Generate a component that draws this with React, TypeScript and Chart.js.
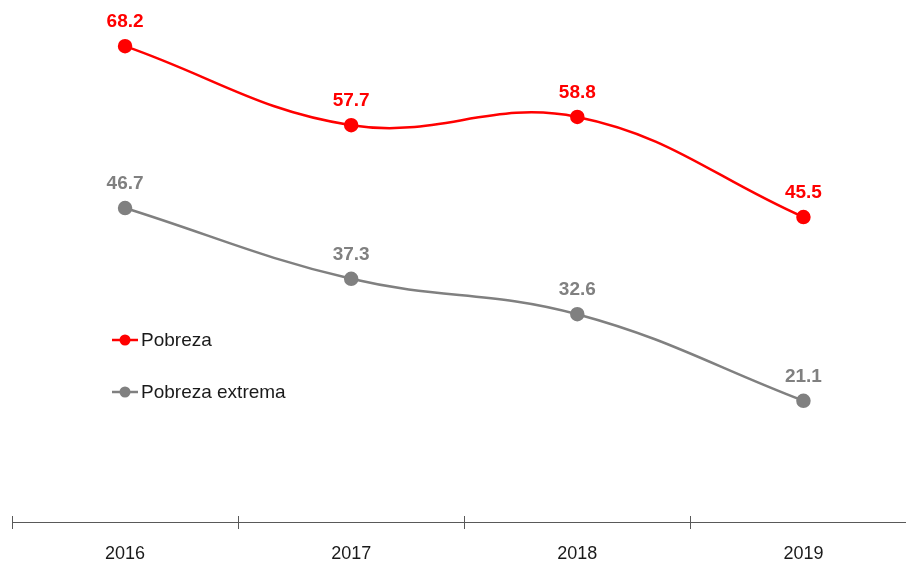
import React, { useEffect, useRef } from "react";
import { Chart, registerables } from "chart.js";

Chart.register(...registerables);

const years = ["2016", "2017", "2018", "2019"];
const pobreza = [68.2, 57.7, 58.8, 45.5];
const pobrezaExtrema = [46.7, 37.3, 32.6, 21.1];
const seriesNames = ["Pobreza", "Pobreza extrema"];
const colors = ["#FF0000", "#808080"];

const FONT = '"Liberation Sans", Arial, sans-serif';
const W = 925;
const H = 567;

const labelsPlugin = {
  id: "valueLabels",
  afterDatasetsDraw(chart: any) {
    const ctx = chart.ctx;
    ctx.save();
    ctx.font = `bold 19px ${FONT}`;
    ctx.textAlign = "center";
    ctx.textBaseline = "middle";
    chart.data.datasets.forEach((ds: any, i: number) => {
      const meta = chart.getDatasetMeta(i);
      ctx.fillStyle = ds.borderColor;
      meta.data.forEach((pt: any, j: number) => {
        ctx.fillText(ds.data[j].toFixed(1), pt.x, pt.y - 24);
      });
    });
    ctx.restore();
  },
};

const legendPlugin = {
  id: "innerLegend",
  afterDraw(chart: any) {
    const ctx = chart.ctx;
    const x0 = 112;
    const ys = [340, 392];
    ctx.save();
    ctx.font = `19px ${FONT}`;
    ctx.textBaseline = "middle";
    ctx.textAlign = "left";
    chart.data.datasets.forEach((ds: any, i: number) => {
      const y = ys[i];
      ctx.strokeStyle = ds.borderColor;
      ctx.lineWidth = 2.5;
      ctx.beginPath();
      ctx.moveTo(x0, y);
      ctx.lineTo(x0 + 26, y);
      ctx.stroke();
      ctx.fillStyle = ds.borderColor;
      ctx.beginPath();
      ctx.arc(x0 + 13, y, 5.5, 0, Math.PI * 2);
      ctx.fill();
      ctx.fillStyle = "#1a1a1a";
      ctx.fillText(ds.label, x0 + 29, y + 1);
    });
    ctx.restore();
  },
};

const axisPlugin = {
  id: "axisTicks",
  afterDraw(chart: any) {
    const ctx = chart.ctx;
    const xs = chart.scales.x;
    const { left, right, bottom } = chart.chartArea;
    const y = bottom;
    const n = years.length;
    const step = (right - left) / n;
    ctx.save();
    ctx.strokeStyle = "#595959";
    ctx.lineWidth = 1;
    ctx.beginPath();
    ctx.moveTo(left, y + 0.5);
    ctx.lineTo(right, y + 0.5);
    for (let i = 0; i < n; i++) {
      const x = Math.round(left + step * i) + 0.5;
      ctx.moveTo(x, y - 6);
      ctx.lineTo(x, y + 7);
    }
    ctx.stroke();
    ctx.fillStyle = "#1a1a1a";
    ctx.font = `18px ${FONT}`;
    ctx.textAlign = "center";
    ctx.textBaseline = "middle";
    years.forEach((yr, i) => {
      ctx.fillText(yr, xs.getPixelForValue(i), y + 32);
    });
    ctx.restore();
  },
};

export default function App() {
  const ref = useRef<HTMLCanvasElement>(null);
  useEffect(() => {
    if (!ref.current) return;
    const chart = new Chart(ref.current, {
      type: "line",
      data: {
        labels: years,
        datasets: [
          {
            label: seriesNames[0],
            data: pobreza,
            borderColor: colors[0],
            backgroundColor: colors[0],
            borderWidth: 2.5,
            pointRadius: 6,
            pointHoverRadius: 6,
            tension: 0.4,
          },
          {
            label: seriesNames[1],
            data: pobrezaExtrema,
            borderColor: colors[1],
            backgroundColor: colors[1],
            borderWidth: 2.5,
            pointRadius: 6,
            pointHoverRadius: 6,
            tension: 0.4,
          },
        ],
      },
      options: {
        animation: false,
        responsive: false,
        layout: { padding: { left: 12, right: 2, top: 10, bottom: 45 } },
        plugins: {
          legend: { display: false },
          tooltip: { enabled: false },
        },
        scales: {
          x: {
            display: false,
            offset: true,
          },
          y: {
            display: false,
            min: 5,
            max: 73,
          },
        },
      },
      plugins: [labelsPlugin, legendPlugin, axisPlugin],
    });
    return () => chart.destroy();
  }, []);
  return (
    <div style={{ position: "fixed", left: 0, top: 0, width: 906, height: 567, overflow: "hidden", background: "#fff" }}>
      <canvas ref={ref} width={W} height={H} style={{ display: "block", width: W, height: H }} />
    </div>
  );
}
